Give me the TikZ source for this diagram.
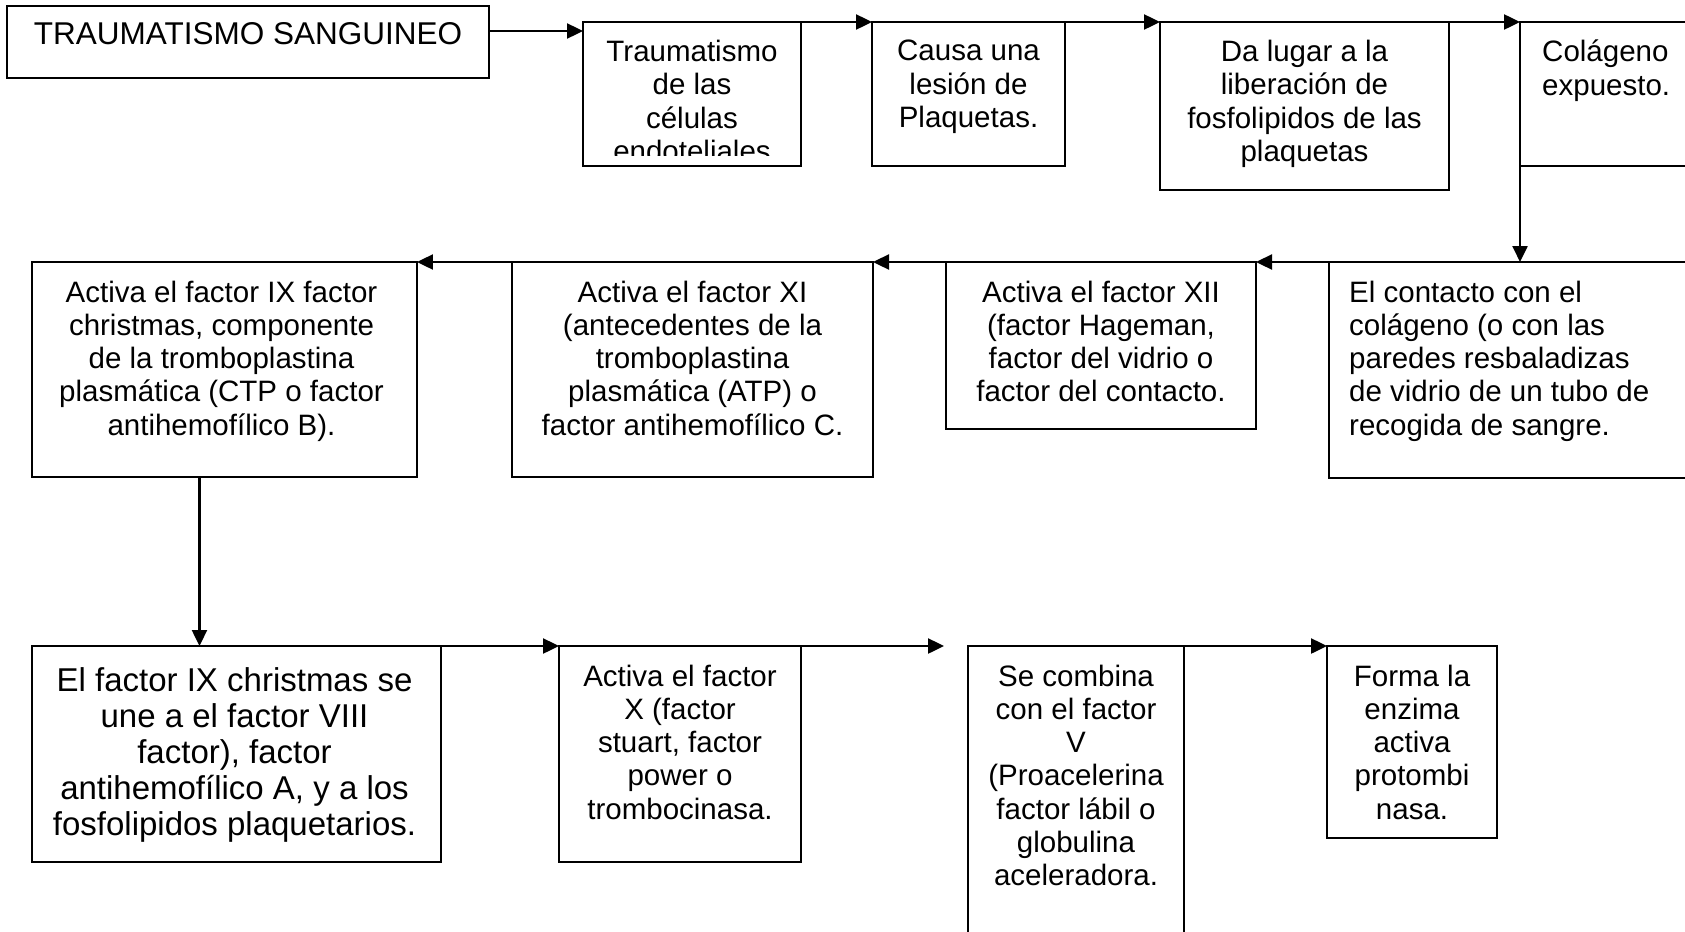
\documentclass[tikz,border=0pt]{standalone}
\usepackage{fontspec}
\setmainfont{Liberation Sans}
\usepackage{tikz}
\usetikzlibrary{arrows.meta,positioning}
\tikzset{
    caja/.style 2 args={rectangle, draw, line width=2.4bp, inner sep=0pt, outer sep=0pt,
                minimum width=#1, minimum height=#2, anchor=north west},
    txt/.style={font=\fontsize{29.5bp}{33.3bp}\selectfont, align=center,
                inner sep=0pt, anchor=north},
    txtl/.style={txt, align=left, anchor=north west},
    arr/.style={-{Triangle[length=16bp, width=15bp]}, line width=2.4bp},
}

\begin{document}
\begin{tikzpicture}[x=1bp, y=-1bp]
    \useasboundingbox (0,0) rectangle (1685,931);
    \clip (0,0) rectangle (1685,931);

    % Fila 1
    \node[caja={482bp}{72bp}] (trauma) at (7,6) {};
    \node[caja={218bp}{144bp}] (endot) at (583,22) {};
    \node[caja={193bp}{144bp}, right=71bp of endot.north east, anchor=north west] (lesion) {};
    \node[caja={289bp}{168bp}, right=95bp of lesion.north east, anchor=north west] (fosfo) {};
    \node[caja={200bp}{144bp}, right=71bp of fosfo.north east, anchor=north west] (colag) {};

    \node[txt, font=\fontsize{31.5bp}{35bp}\selectfont] (trauma-t) at ([yshift=-16.5bp]trauma.north) {TRAUMATISMO SANGUINEO};
    \begin{scope}
        \clip (endot.north west) rectangle ([yshift=11bp]endot.south east);
        \node[txt] (endot-t) at ([yshift=-18bp]endot.north) {Traumatismo\\de las\\células\\endoteliales};
    \end{scope}
    \node[txt] (lesion-t) at ([yshift=-18bp]lesion.north) {Causa una\\lesión de\\Plaquetas.};
    \node[txt] (fosfo-t) at ([yshift=-18bp]fosfo.north) {Da lugar a la\\liberación de\\fosfolipidos de las\\plaquetas};
    \node[txtl] (colag-t) at ([xshift=22bp, yshift=-18bp]colag.north west) {Colágeno\\expuesto.};

    % Fila 2
    \node[caja={400bp}{216bp}] (contacto) at (1329,262) {};
    \node[caja={310bp}{167bp}, left=73bp of contacto.north west, anchor=north east] (fxii) {};
    \node[caja={361bp}{215bp}, left=73bp of fxii.north west, anchor=north east] (fxi) {};
    \node[caja={385bp}{215bp}, left=95bp of fxi.north west, anchor=north east] (fix) {};

    \node[txtl] (contacto-t) at ([xshift=20bp, yshift=-18.5bp]contacto.north west) {El contacto con el\\colágeno (o con las\\paredes resbaladizas\\de vidrio de un tubo de\\recogida de sangre.};
    \node[txt] (fxii-t) at ([yshift=-18.5bp]fxii.north) {Activa el factor XII\\(factor Hageman,\\factor del vidrio o\\factor del contacto.};
    \node[txt] (fxi-t) at ([yshift=-18.5bp]fxi.north) {Activa el factor XI\\(antecedentes de la\\tromboplastina\\plasmática (ATP) o\\factor antihemofílico C.};
    \node[txt] (fix-t) at ([xshift=-3bp, yshift=-18.5bp]fix.north) {Activa el factor IX factor\\christmas, componente\\de la tromboplastina\\plasmática (CTP o factor\\antihemofílico B).};

    % Fila 3
    \node[caja={409bp}{216bp}] (fixviii) at (32,646) {};
    \node[caja={242bp}{216bp}, right=118bp of fixviii.north east, anchor=north west] (fx) {};
    \node[caja={216bp}{354bp}, right=167bp of fx.north east, anchor=north west] (fv) {};
    \node[caja={170bp}{192bp}, right=143bp of fv.north east, anchor=north west] (protromb) {};
    \coordinate[right=143bp of fx.north east] (fx-fin);

    \node[txt, font=\fontsize{33bp}{36bp}\selectfont] (fixviii-t) at ([xshift=-2bp, yshift=-21bp]fixviii.north) {El factor IX christmas se\\une a el factor VIII\\factor), factor\\antihemofílico A, y a los\\fosfolipidos plaquetarios.};
    \node[txt] (fx-t) at ([yshift=-18.5bp]fx.north) {Activa el factor\\X (factor\\stuart, factor\\power o\\trombocinasa.};
    \node[txt] (fv-t) at ([yshift=-18.5bp]fv.north) {Se combina\\con el factor\\V\\(Proacelerina\\factor lábil o\\globulina\\aceleradora.};
    \node[txt] (protromb-t) at ([yshift=-18.5bp]protromb.north) {Forma la\\enzima\\activa\\protombi\\nasa.};

    % Flechas
    \draw[arr] ([yshift=11bp]trauma.east) -- ([yshift=11bp]trauma.east -| endot.west);
    \draw[arr] (endot.north east) -- (lesion.north west);
    \draw[arr] (lesion.north east) -- (fosfo.north west);
    \draw[arr] (fosfo.north east) -- (colag.north west);
    \draw[arr] (colag.south west) -- (colag.south west |- contacto.north);
    \draw[arr] (contacto.north west) -- (fxii.north east);
    \draw[arr] (fxii.north west) -- (fxi.north east);
    \draw[arr] (fxi.north west) -- (fix.north east);
    \draw[arr] ([xshift=-25bp]fix.south) -- ([xshift=-25bp]fix.south |- fixviii.north);
    \draw[arr] (fixviii.north east) -- (fx.north west);
    \draw[arr] (fx.north east) -- (fx-fin);
    \draw[arr] (fv.north east) -- (protromb.north west);
\end{tikzpicture}
\end{document}
